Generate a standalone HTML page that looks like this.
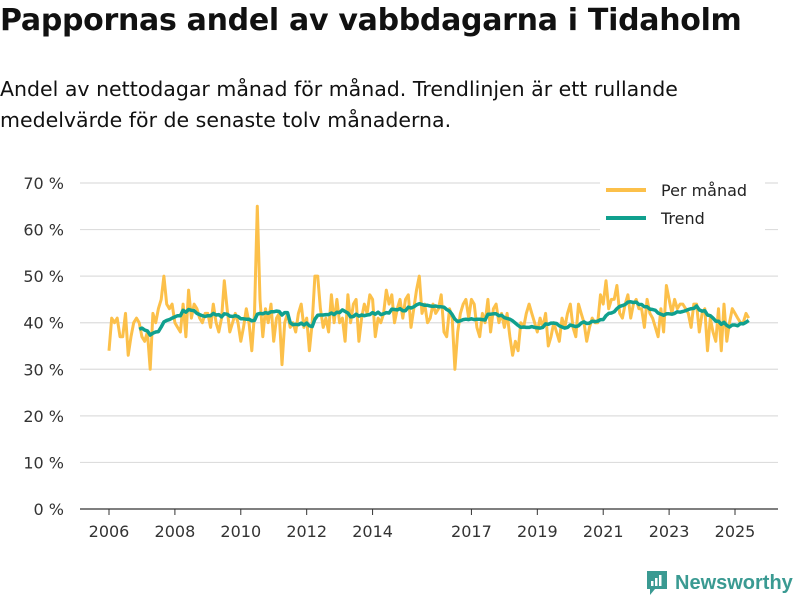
<!DOCTYPE html>
<html><head><meta charset="utf-8"><style>
body{margin:0;width:800px;height:600px;background:#fff;font-family:"Liberation Sans","DejaVu Sans",sans-serif;overflow:hidden;position:relative}
h1{position:absolute;left:0;top:3px;margin:0;font-size:30px;font-weight:bold;color:#111;font-family:"DejaVu Sans",sans-serif;letter-spacing:-0.3px}
.sub{position:absolute;left:0;top:74px;font-size:20.5px;line-height:31px;color:#111;font-family:"DejaVu Sans",sans-serif}
svg{position:absolute;left:0;top:0}
</style></head><body>
<h1>Pappornas andel av vabbdagarna i Tidaholm</h1>
<div class="sub">Andel av nettodagar månad för månad. Trendlinjen är ett rullande<br>medelvärde för de senaste tolv månaderna.</div>
<svg id="c" width="800" height="600"></svg>
<div style="position:absolute;left:645px;top:569px;display:flex;align-items:center;gap:6px;color:#3a9a92;font-size:20px;font-weight:bold;font-family:'Liberation Sans',sans-serif">
<svg width="24" height="28" style="position:static"><path d="M2 2h20v18H10l-5 6v-6H2z" fill="#3a9a92"/><rect x="6" y="12" width="2.5" height="5" fill="#fff"/><rect x="10" y="9" width="2.5" height="8" fill="#fff"/><rect x="14" y="6" width="2.5" height="11" fill="#fff"/></svg>Newsworthy</div>
<script>
const startYear = 2006;
const values = [
34,41,40,41,37,37,42,33,37,40,41,40,
37,36,38,30,42,40,43,45,50,44,43,44,
40,39,38,44,37,47,41,44,43,41,40,42,
42,39,44,40,38,41,49,43,38,40,42,40,
36,39,43,40,34,42,65,45,37,43,40,44,
36,41,42,31,40,42,39,40,38,42,44,39,
41,34,40,50,50,43,39,41,38,46,40,45,
40,41,36,46,40,44,45,36,41,44,42,46,
45,37,41,40,42,47,44,46,40,43,45,41,
45,46,39,43,47,50,42,44,40,41,44,42,
43,46,38,37,43,41,30,38,42,44,45,41,
45,44,39,37,42,40,45,38,43,44,40,42,
39,42,37,33,36,34,40,39,42,44,42,40,
38,41,39,42,35,37,40,38,36,41,39,42,
44,39,37,44,42,40,36,39,41,40,40,46,
44,49,43,45,45,48,42,41,44,46,41,44,
45,43,43,39,45,42,41,39,37,43,38,48,
45,42,45,43,44,44,43,42,39,44,44,38,
42,43,34,41,38,36,43,34,44,36,40,43,
42,41,40,40,42,41];
const yTicks = [0,10,20,30,40,50,60,70];
const xTickYears = [2006,2008,2010,2012,2014,2017,2019,2021,2023,2025];
const ns="http://www.w3.org/2000/svg", svg=document.getElementById('c');
const X = t => 109 + (t - startYear) * (735-109)/19;
const Y = v => 509 - v * (509-183)/70;
function mk(tag, attrs){const e=document.createElementNS(ns,tag);for(const k in attrs)e.setAttribute(k,attrs[k]);svg.appendChild(e);return e;}
yTicks.forEach(v=>{
  const g=mk('line',{x1:80,x2:778,y1:Y(v),y2:Y(v),stroke:v===0?'#333':'#ddd','stroke-width':1.2});
  
  
  const t=mk('text',{x:64,y:Y(v)+6,'text-anchor':'end','font-size':16,fill:'#333','font-family':'DejaVu Sans, sans-serif'});
  t.textContent=v+' %';
  
  
});
xTickYears.forEach(y=>{
  const l=mk('line',{x1:X(y),x2:X(y),y1:509,y2:515,stroke:'#333'});
  
  
  const t=mk('text',{x:X(y),y:537,'text-anchor':'middle','font-size':16,fill:'#333','font-family':'DejaVu Sans, sans-serif'});
  t.textContent=y;
  
  
});
const pts=values.map((v,i)=>X(startYear+i/12).toFixed(1)+','+Y(v).toFixed(1));
const ml=mk('polyline',{points:pts.join(' '),fill:'none',stroke:'#fcc04a','stroke-width':3,'stroke-linejoin':'round'});


const tp=[];
for(let i=11;i<values.length;i++){let s=0;for(let j=i-11;j<=i;j++)s+=values[j];tp.push(X(startYear+i/12).toFixed(1)+','+Y(s/12).toFixed(1));}
const tl=mk('polyline',{points:tp.join(' '),fill:'none',stroke:'#10a08e','stroke-width':3.5,'stroke-linejoin':'round'});


const lb=mk('rect',{x:600,y:177,width:165,height:56,fill:'#fff'});


[['Per månad','#fcc04a',190],['Trend','#10a08e',218]].forEach(([n,c,y])=>{
  const l=mk('line',{x1:606,x2:646,y1:y,y2:y,stroke:c,'stroke-width':4});
  
  
  const t=mk('text',{x:661,y:y+6,'font-size':16,fill:'#222','font-family':'DejaVu Sans, sans-serif'});
  t.textContent=n;
  
  
});
</script>
</body></html>
